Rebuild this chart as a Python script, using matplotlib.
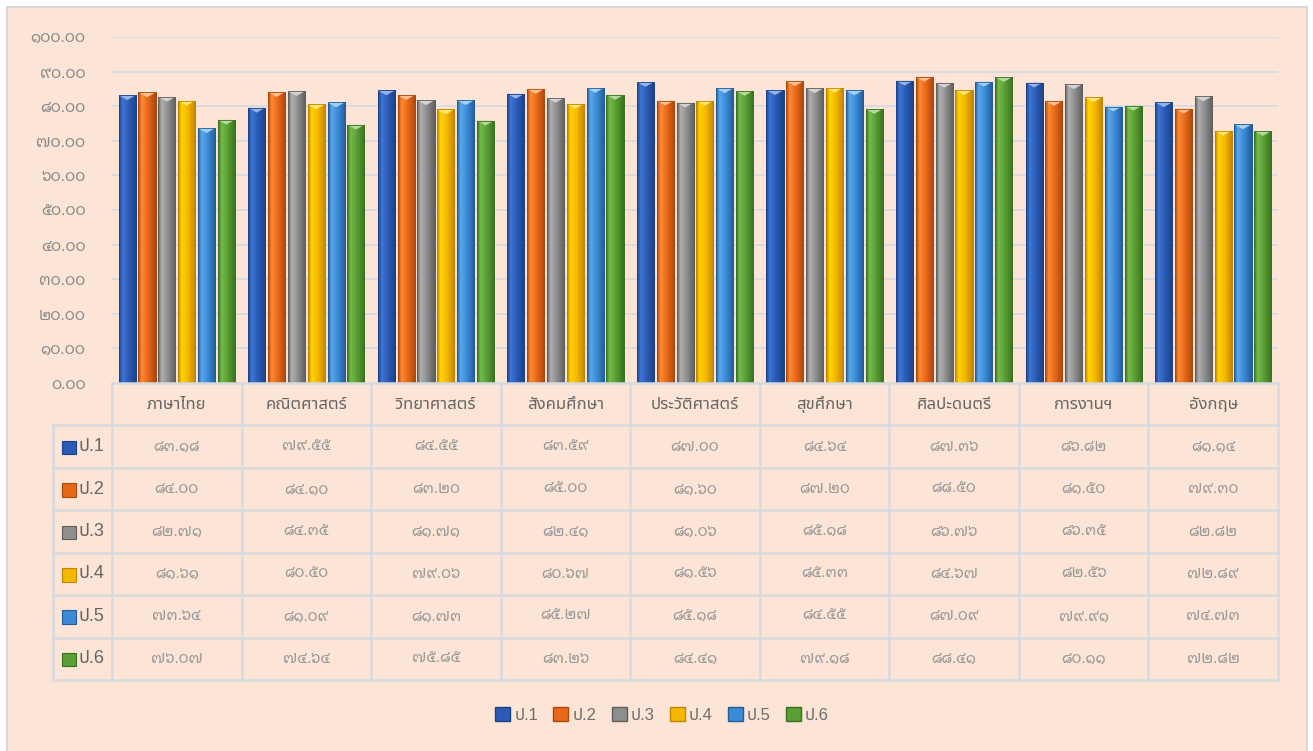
import numpy as np
import matplotlib
matplotlib.use('Agg')
import matplotlib.pyplot as plt
from matplotlib.patches import Rectangle, Polygon, Patch
from matplotlib.colors import LinearSegmentedColormap, to_rgb

plt.rcParams['font.family'] = ['Liberation Sans', 'Noto Sans Thai']
DIGITS = ['Liberation Sans', 'Noto Sans Thai Looped']

subjects = ['ภาษาไทย', 'คณิตศาสตร์', 'วิทยาศาสตร์', 'สังคมศึกษา', 'ประวัติศาสตร์',
            'สุขศึกษา', 'ศิลปะดนตรี', 'การงานฯ', 'อังกฤษ']
grades = ['ป.1', 'ป.2', 'ป.3', 'ป.4', 'ป.5', 'ป.6']

p1 = [83.18, 79.55, 84.55, 83.59, 87.00, 84.64, 87.36, 86.82, 81.14]
p2 = [84.00, 84.10, 83.20, 85.00, 81.60, 87.20, 88.50, 81.50, 79.30]
p3 = [82.71, 84.35, 81.71, 82.41, 81.06, 85.18, 86.76, 86.35, 82.82]
p4 = [81.61, 80.50, 79.06, 80.67, 81.56, 85.33, 84.67, 82.56, 72.89]
p5 = [73.64, 81.09, 81.73, 85.27, 85.18, 84.55, 87.09, 79.91, 74.73]
p6 = [76.07, 74.64, 75.85, 83.26, 84.41, 79.18, 88.41, 80.11, 72.82]
series = [p1, p2, p3, p4, p5, p6]

# (dark, light, base) per grade
colors = [('#1d4186', '#3d76d6', '#2b5bb5'),
          ('#a9480d', '#ff8a33', '#e8681a'),
          ('#5e5e5e', '#b0b0b0', '#8e8e8e'),
          ('#c08400', '#ffd400', '#f5b800'),
          ('#235c98', '#5aa8ec', '#3b8ad6'),
          ('#3a711f', '#74bb4a', '#5a9e35')]

thai = str.maketrans('0123456789', '๐๑๒๓๔๕๖๗๘๙')


def th(v):
    return ('%.2f' % v).translate(thai)


W, H = 1313, 751
fig = plt.figure(figsize=(W / 100, H / 100), dpi=100, facecolor='white')
bg = fig.add_axes([0, 0, 1, 1], zorder=-10)
bg.set_xlim(0, W)
bg.set_ylim(H, 0)
bg.axis('off')
bg.add_patch(Rectangle((7, 7), 1300, 760, facecolor='#fce4d6', edgecolor='#d9d9d9', lw=1.5))

# main chart
ax = fig.add_axes([112 / W, 1 - 383 / H, 1166 / W, 346 / H])
ax.set_facecolor('none')
yt = np.arange(0, 101, 10)
ax.set_yticks(yt, labels=[th(v) for v in yt], family=DIGITS)
ax.tick_params(axis='y', length=0, pad=19, labelsize=11.3, labelcolor='#8a8a8a')
ax.set_xticks([])
for s in ax.spines.values():
    s.set_visible(False)
ax.grid(axis='y', color='#d6dbe2', lw=1.3)
ax.set_axisbelow(True)

x = np.arange(len(subjects))
pitch = 0.153
bw = 0.132
grad = np.linspace(0, 1, 64).reshape(1, -1)
for k, vals in enumerate(series):
    dark, light, base = colors[k]
    cmap = LinearSegmentedColormap.from_list('g%d' % k, [(0, dark), (0.2, light), (0.55, base), (1, dark)])
    bars = ax.bar(x + (k - 2.5) * pitch, vals, bw, color=base, edgecolor=dark, lw=0.6, zorder=2)
    tip = tuple(0.55 * np.array(to_rgb(light)) + 0.45)
    for b in bars:
        x0, h, w = b.get_x(), b.get_height(), b.get_width()
        im = ax.imshow(grad, cmap=cmap, extent=(x0, x0 + w, 0, h), aspect='auto', zorder=2.5)
        im.set_clip_path(b)
        ax.add_patch(Polygon([(x0, h), (x0 + w, h), (x0 + w / 2, h - 1.4)], closed=True,
                             facecolor=tip, edgecolor='none', zorder=3))
        ax.add_patch(Rectangle((x0, 0), w, h, fill=False, edgecolor=dark, lw=0.6, zorder=3.5))
ax.set_xlim(-0.5, 8.5)
ax.set_ylim(0, 100)

# data table
lab_w = 59 / 129.56
tab = fig.add_axes([53 / W, 1 - 680 / H, 1225 / W, 297 / H])
tab.set_xlim(-0.5 - lab_w, 8.5)
tab.set_ylim(7, 0)
tab.axis('off')
lc = '#d8dadd'
tab.plot([-0.5, 8.5], [0, 0], color=lc, lw=1.8, clip_on=False)
for r in range(1, 8):
    tab.plot([-0.5 - lab_w, 8.5], [r, r], color=lc, lw=1.8, clip_on=False)
tab.plot([-0.5 - lab_w, -0.5 - lab_w], [1, 7], color=lc, lw=1.8, clip_on=False)
for c in range(10):
    tab.plot([c - 0.5, c - 0.5], [0, 7], color=lc, lw=1.8, clip_on=False)

for i, name in enumerate(subjects):
    tab.text(i, 0.5, name, ha='center', va='center', fontsize=12, color='#666666')
for k, vals in enumerate(series):
    dark, light, base = colors[k]
    tab.add_patch(Rectangle((-0.5 - lab_w + 0.07, k + 1.36), 0.105, 0.32, facecolor=base,
                            edgecolor=dark, lw=0.8))
    tab.text(-0.5 - lab_w + 0.2, k + 1.5, grades[k], ha='left', va='center', fontsize=13,
             color='#666666')
    for i, v in enumerate(vals):
        tab.text(i, k + 1.5, th(v), ha='center', va='center', fontsize=11, color='#999999',
                 family=DIGITS)

# legend
handles = [Patch(facecolor=colors[k][2], edgecolor=colors[k][0], label=grades[k]) for k in range(6)]
fig.legend(handles=handles, loc='center', bbox_to_anchor=(662 / W, 1 - 715 / H), ncol=6,
           frameon=False, fontsize=12, labelcolor='#6e6e6e', handlelength=0.9, handleheight=0.9,
           handletextpad=0.25, columnspacing=0.9)

fig.savefig('out.png', dpi=100, facecolor='white')
